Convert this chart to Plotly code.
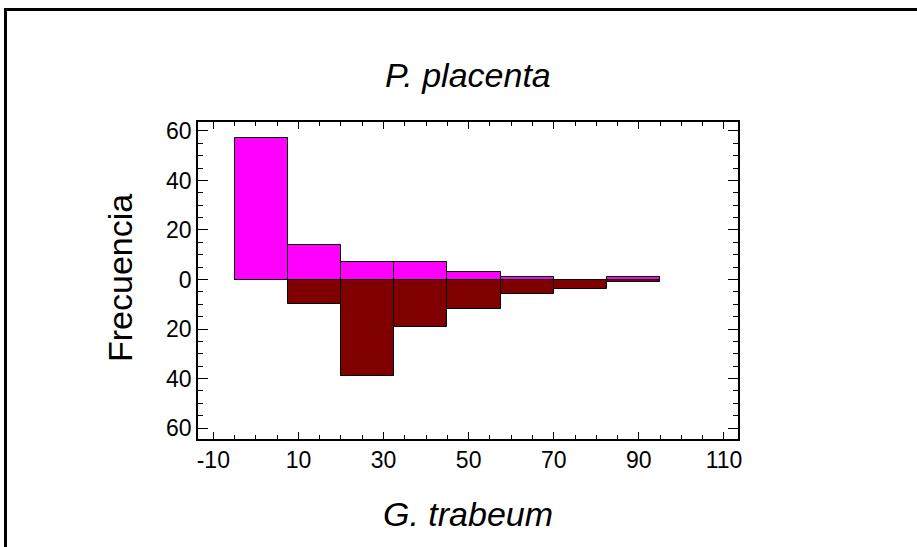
import plotly.graph_objects as go

# Data
bin_centers = [1.25, 13.75, 26.25, 38.75, 51.25, 63.75, 76.25, 88.75]
bin_width = 12.5
freq_placenta = [57, 14, 7, 7, 3, 1, 0, 1]      # upper (P. placenta)
freq_trabeum = [0, 10, 39, 19, 12, 6, 4, 1]     # lower (G. trabeum)

y_tick_vals = [-60, -40, -20, 0, 20, 40, 60]
y_tick_text = ["60", "40", "20", "0", "20", "40", "60"]
x_tick_vals = [-10, 10, 30, 50, 70, 90, 110]
x_tick_text = ["-10", "10", "30", "50", "70", "90", "110"]

FONT = "Liberation Sans, Arial, sans-serif"

fig = go.Figure()
fig.add_trace(go.Bar(
    x=bin_centers, y=freq_placenta, width=bin_width,
    marker=dict(color="#FF00FF", line=dict(color="black", width=1)),
    name="P. placenta", showlegend=False,
))
fig.add_trace(go.Bar(
    x=bin_centers, y=[-v for v in freq_trabeum], width=bin_width,
    marker=dict(color="#800000", line=dict(color="black", width=1)),
    name="G. trabeum", showlegend=False,
))

L, R, T, B = 198, 179, 122, 108
W, H = 917, 547
pw, ph = W - L - R, H - T - B

def px2x(px):
    return (px - L) / pw

def py2y(py):
    return (H - B - py) / ph

fig.add_shape(type="rect", xref="paper", yref="paper",
              x0=px2x(5.5), x1=px2x(940), y0=py2y(9.5), y1=py2y(570),
              line=dict(color="black", width=3), fillcolor="rgba(0,0,0,0)")

fig.add_annotation(text="<i>P. placenta</i>", xref="paper", yref="paper",
                   x=px2x(468), y=py2y(75), xanchor="center", yanchor="middle",
                   showarrow=False, font=dict(size=34, family=FONT, color="black"))
fig.add_annotation(text="<i>G. trabeum</i>", xref="paper", yref="paper",
                   x=px2x(468), y=py2y(514), xanchor="center", yanchor="middle",
                   showarrow=False, font=dict(size=34, family=FONT, color="black"))
fig.add_annotation(text="Frecuencia", xref="paper", yref="paper",
                   x=px2x(120), y=py2y(278), xanchor="center", yanchor="middle",
                   textangle=-90, showarrow=False,
                   font=dict(size=34, family=FONT, color="black"))

fig.update_layout(
    width=W, height=H,
    margin=dict(l=L, r=R, t=T, b=B, pad=0),
    paper_bgcolor="white", plot_bgcolor="white",
    barmode="overlay", bargap=0,
    font=dict(family=FONT, color="black", size=24),
)
fig.update_xaxes(
    range=[-13.6, 113.3], tickmode="array", tickvals=x_tick_vals, ticktext=x_tick_text,
    ticks="inside", ticklen=7, tickwidth=1.3, tickcolor="black",
    showline=True, linecolor="black", linewidth=1.5, mirror="ticks",
    showgrid=False, zeroline=False,
    minor=dict(tickmode="linear", tick0=0, dtick=5, ticks="inside", ticklen=4,
               tickcolor="black", tickwidth=1.3, showgrid=False),
    tickfont=dict(size=23),
)
fig.update_yaxes(
    range=[-64.4, 63.6], tickmode="array", tickvals=y_tick_vals, ticktext=y_tick_text,
    ticks="inside", ticklen=10, tickwidth=1.3, tickcolor="black",
    showline=True, linecolor="black", linewidth=1.5, mirror="ticks",
    showgrid=False, zeroline=False,
    minor=dict(tickmode="linear", tick0=0, dtick=5, ticks="inside", ticklen=5.5,
               tickcolor="black", tickwidth=1.3, showgrid=False),
    tickfont=dict(size=23),
)

fig.write_html("out.html")
